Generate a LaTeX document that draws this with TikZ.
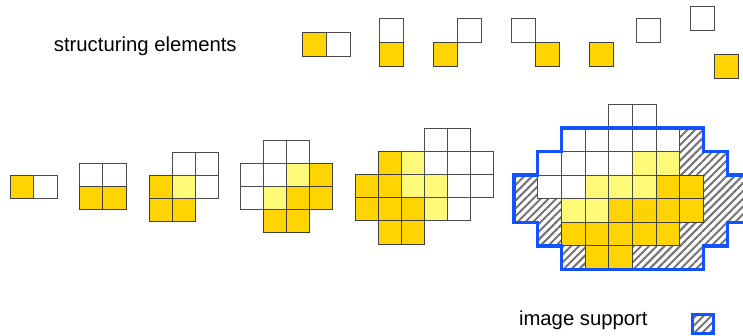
\documentclass[tikz,border=0pt]{standalone}
\usepackage{fontspec}
\setmainfont{Liberation Sans}
\usetikzlibrary{patterns.meta}
\definecolor{seY}{RGB}{255,212,0}
\definecolor{seLY}{RGB}{255,250,120}
\definecolor{supBlue}{RGB}{18,82,255}
\tikzset{
  wcell/.style={draw=black!70, line width=1pt, fill=white},
  ycell/.style={draw=black!75, line width=1pt, fill=seY},
  lcell/.style={draw=black!70, line width=1pt, fill=seLY},
  hatchfill/.style={pattern={Lines[angle=45,distance=5.5pt,line width=2pt]}, pattern color=black!55},
  suppline/.style={draw=supBlue, line width=3.5pt, line join=miter},
  lbl/.style={font=\fontsize{20.3}{24}\selectfont, inner sep=0pt, anchor=base west},
}
\begin{document}
\begin{tikzpicture}[x=1pt,y=-1pt]
\useasboundingbox (0,0) rectangle (743,335);
\clip (0,0) rectangle (743,335);

% labels
\node[lbl] (selabel) at (53.7,51.5) {structuring elements};
\node[lbl] (suplabel) at (518.8,325) {image support};

% top row: structuring elements (cell 24)
\begin{scope}[x=24pt,y=-24pt]
\end{scope}
\newcommand\topsq[3]{\draw[#3] (#1,#2) rectangle ++(24,24);}
\topsq{302}{32}{ycell}\topsq{326}{32}{wcell}
\topsq{379}{18}{wcell}\topsq{379}{42}{ycell}
\topsq{457}{18}{wcell}\topsq{433}{42}{ycell}
\topsq{511}{18}{wcell}\topsq{535}{42}{ycell}
\topsq{589}{42}{ycell}
\topsq{636}{18}{wcell}
\topsq{690}{6}{wcell}\topsq{714}{54}{ycell}

% grid 1
\begin{scope}[shift={(10.5,175)},x=23.3pt,y=-23.6pt]
  \draw[ycell] (0,0) rectangle ++(1,1);
  \draw[wcell] (1,0) rectangle ++(1,1);
\end{scope}

% grid 2
\begin{scope}[shift={(79.5,163)},x=23.4pt,y=-23.4pt]
  \foreach \c/\r in {0/0,1/0} \draw[wcell] (\c,\r) rectangle ++(1,1);
  \foreach \c/\r in {0/1,1/1} \draw[ycell] (\c,\r) rectangle ++(1,1);
\end{scope}

% grid 3
\begin{scope}[shift={(149,152)},x=23pt,y=-23pt]
  \foreach \c/\r in {1/0,2/0,2/1} \draw[wcell] (\c,\r) rectangle ++(1,1);
  \foreach \c/\r in {1/1} \draw[lcell] (\c,\r) rectangle ++(1,1);
  \foreach \c/\r in {0/1,0/2,1/2} \draw[ycell] (\c,\r) rectangle ++(1,1);
\end{scope}

% grid 4
\begin{scope}[shift={(240.7,140)},x=22.9pt,y=-23pt]
  \foreach \c/\r in {1/0,2/0,0/1,1/1,0/2} \draw[wcell] (\c,\r) rectangle ++(1,1);
  \foreach \c/\r in {2/1,1/2} \draw[lcell] (\c,\r) rectangle ++(1,1);
  \foreach \c/\r in {3/1,2/2,3/2,1/3,2/3} \draw[ycell] (\c,\r) rectangle ++(1,1);
\end{scope}

% grid 5
\begin{scope}[shift={(355,128.7)},x=23.15pt,y=-23.06pt]
  \foreach \c/\r in {3/0,4/0,3/1,4/1,5/1,4/2,5/2,4/3} \draw[wcell] (\c,\r) rectangle ++(1,1);
  \foreach \c/\r in {2/1,2/2,3/2,3/3} \draw[lcell] (\c,\r) rectangle ++(1,1);
  \foreach \c/\r in {1/1,0/2,1/2,0/3,1/3,2/3,1/4,2/4} \draw[ycell] (\c,\r) rectangle ++(1,1);
\end{scope}

% grid 6 with image support
\begin{scope}[shift={(514,104.3)},x=23.7pt,y=-23.6pt]
  \path[hatchfill] (2,1) -- (8,1) -- (8,2) -- (9,2) -- (9,3) -- (10,3) -- (10,5) -- (9,5) -- (9,6) -- (8,6) -- (8,7) -- (2,7) -- (2,6) -- (1,6) -- (1,5) -- (0,5) -- (0,3) -- (1,3) -- (1,2) -- (2,2) -- cycle;
  \foreach \c/\r in {4/0,5/0,2/1,3/1,4/1,5/1,6/1,1/2,2/2,3/2,4/2,1/3,2/3} \draw[wcell] (\c,\r) rectangle ++(1,1);
  \foreach \c/\r in {5/2,6/2,3/3,4/3,5/3,2/4,3/4} \draw[lcell] (\c,\r) rectangle ++(1,1);
  \foreach \c/\r in {6/3,7/3,4/4,5/4,6/4,7/4,2/5,3/5,4/5,5/5,6/5,3/6,4/6} \draw[ycell] (\c,\r) rectangle ++(1,1);
  \draw[suppline] (2,1) -- (8,1) -- (8,2) -- (9,2) -- (9,3) -- (10,3) -- (10,5) -- (9,5) -- (9,6) -- (8,6) -- (8,7) -- (2,7) -- (2,6) -- (1,6) -- (1,5) -- (0,5) -- (0,3) -- (1,3) -- (1,2) -- (2,2) -- cycle;
\end{scope}

% legend swatch
\draw[hatchfill] (692,314.5) rectangle (713,333.5);
\draw[suppline, line width=3pt] (692,314.5) rectangle (713,333.5);
\end{tikzpicture}
\end{document}
